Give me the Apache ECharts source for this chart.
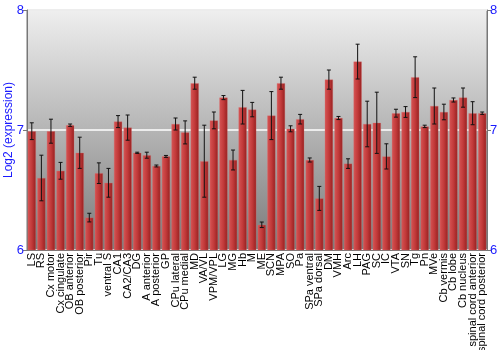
<!DOCTYPE html>
<html>
<head>
<meta charset="utf-8">
<script src="https://cdn.jsdelivr.net/npm/echarts@6/dist/echarts.min.js"></script>
<style>html,body{margin:0;padding:0;background:#fff}#c{width:500px;height:350px}</style>
</head>
<body>
<div id="c"></div>
<script>
var categories = ["LS","RS","Cx motor","Cx cingulate","OB anterior","OB posterior","Pir","Tu","ventral S","CA1","CA2/CA3","DG","A anterior","A posterior","GP","CPu lateral","CPu medial","MD","VA/VL","VPM/VPL","LG","MG","Hb","M","ME","SCN","MPA","SO","Pa","SPa ventral","SPa dorsal","DM","VMH","Arc","LH","PAG","SC","IC","VTA","SN","Tg","Pn","MVe","Cb vermis","Cb lobe","Cb nucleus","spinal cord anterior","spinal cord posterior"];
var values = [6.99,6.60,6.99,6.66,7.04,6.81,6.27,6.64,6.56,7.07,7.02,6.81,6.79,6.70,6.78,7.05,6.98,7.39,6.74,7.08,7.27,6.75,7.19,7.17,6.21,7.12,7.39,7.01,7.09,6.75,6.43,7.42,7.10,6.72,7.57,7.05,7.06,6.78,7.14,7.15,7.44,7.03,7.20,7.15,7.25,7.27,7.14,7.14];
var errors = [0.07,0.19,0.10,0.07,0.01,0.13,0.036,0.086,0.12,0.05,0.105,0.005,0.025,0.008,0.008,0.05,0.096,0.05,0.30,0.07,0.017,0.083,0.14,0.06,0.023,0.20,0.05,0.025,0.04,0.017,0.10,0.08,0.013,0.04,0.145,0.19,0.255,0.105,0.033,0.045,0.17,0.01,0.15,0.065,0.017,0.08,0.096,0.01];
var yTicks = [6,7,8];

var errData = values.map(function(v,i){ return [i, v - errors[i], v + errors[i]]; });

var chart = echarts.init(document.getElementById('c'));
var blue = '#1a1aff';
var ff = 'Liberation Sans, Arial, sans-serif';
chart.setOption({
  animation: false,
  grid: {
    left: 27, right: 13, top: 10, bottom: 100,
    outerBoundsMode: 'none',
    containLabel: false,
    show: true,
    borderColor: '#777', borderWidth: 1,
    backgroundColor: new echarts.graphic.LinearGradient(0,0,0,1,[{offset:0,color:'#efefef'},{offset:1,color:'#7a7a7a'}])
  },
  xAxis: {
    type: 'category',
    data: categories,
    axisLine: {show: true, lineStyle: {color:'#777'}},
    axisTick: {show: false},
    axisLabel: {rotate: 90, interval: 0, color: '#000', fontSize: 11, fontFamily: ff, margin: 3}
  },
  yAxis: [{
    type: 'value', min: yTicks[0], max: yTicks[yTicks.length-1], interval: 1,
    name: 'Log2 (expression)', nameLocation: 'middle', nameGap: 12, nameMoveOverlap: false,
    nameTextStyle: {color: blue, fontSize: 12, fontFamily: ff},
    axisLine: {show: true, lineStyle: {color:'#777'}},
    axisTick: {show: true, length: 4, lineStyle: {color:'#777'}},
    axisLabel: {color: blue, fontSize: 13, margin: 3, fontFamily: ff},
    splitLine: {show: true, lineStyle: {color: '#ffffff', width: 1.5}}
  },{
    type: 'value', min: yTicks[0], max: yTicks[yTicks.length-1], interval: 1, position: 'right',
    axisLine: {show: true, lineStyle: {color:'#777'}},
    axisTick: {show: true, length: 4, lineStyle: {color:'#777'}},
    axisLabel: {color: blue, fontSize: 13, margin: 3, fontFamily: ff},
    splitLine: {show: false}
  }],
  series: [{
    type: 'bar',
    data: values,
    barCategoryGap: '14%',
    itemStyle: {
      color: new echarts.graphic.LinearGradient(0,0,1,0,[{offset:0,color:'#d65454'},{offset:0.5,color:'#c23a3a'},{offset:1,color:'#962020'}]),
      borderColor: 'rgba(220,110,110,0.6)', borderWidth: 0.5
    }
  },{
    type: 'custom',
    data: errData,
    z: 5,
    renderItem: function(params, api){
      var x = api.value(0);
      var lo = api.coord([x, api.value(1)]);
      var hi = api.coord([x, api.value(2)]);
      var c = 2;
      var st = {stroke: '#111', lineWidth: 1};
      return {type: 'group', children: [
        {type:'line', shape:{x1:lo[0],y1:lo[1],x2:hi[0],y2:hi[1]}, style: st},
        {type:'line', shape:{x1:lo[0]-c,y1:lo[1],x2:lo[0]+c,y2:lo[1]}, style: st},
        {type:'line', shape:{x1:hi[0]-c,y1:hi[1],x2:hi[0]+c,y2:hi[1]}, style: st}
      ]};
    }
  }]
});
</script>
</body>
</html>
